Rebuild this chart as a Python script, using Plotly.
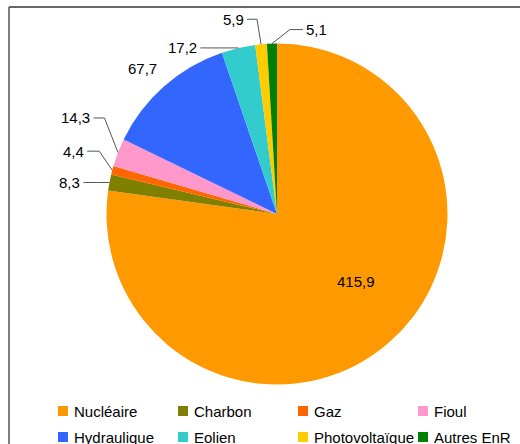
import math
import plotly.graph_objects as go

labels = ["Nucléaire", "Charbon", "Gaz", "Fioul", "Hydraulique", "Eolien", "Photovoltaïque", "Autres EnR"]
values = [415.9, 8.3, 4.4, 14.3, 67.7, 17.2, 5.9, 5.1]
colors = ["#FF9900", "#808000", "#FF6600", "#FF99CC", "#3366FF", "#33CCCC", "#FFCC00", "#008000"]

W, H = 520, 444
cx, cy, R = 277, 214, 170.5
FONT = "Liberation Sans, Arial, sans-serif"

# leader lines: (elbow dx, elbow dy, horizontal run) in px from the slice edge
leaders = {
    "Charbon": (-12, 0, -14),
    "Gaz": (-13, -19, -12),
    "Fioul": (-13.5, -34.5, -11),
    "Eolien": (-2, 0, -36),
    "Photovoltaïque": (-4, -25, -10),
    "Autres EnR": (18, -14, 13),
}


def px(x):
    return x / W


def py(y):
    return 1 - y / H


def fmt(v):
    return f"{v:.1f}".replace(".", ",")


fig = go.Figure()
fig.add_trace(go.Pie(
    labels=labels, values=values, sort=False, direction="clockwise", rotation=0,
    marker=dict(colors=colors, line=dict(width=0)),
    textinfo="none",
    domain=dict(x=[px(cx - R), px(cx + R)], y=[py(cy + R), py(cy - R)]),
    showlegend=False, hoverinfo="label+value",
))

shapes = []
annotations = []
total = sum(values)
cum = 0
for lab, v in zip(labels, values):
    mid = (cum + v / 2) / total * 2 * math.pi
    cum += v
    ex, ey = cx + R * math.sin(mid), cy - R * math.cos(mid)
    if lab in leaders:
        dx, dy, run = leaders[lab]
        bx, by = ex + dx, ey + dy
        tx = bx + run
        shapes.append(dict(type="path", xref="paper", yref="paper",
                           path=f"M{px(ex)},{py(ey)} L{px(bx)},{py(by)} L{px(tx)},{py(by)}",
                           line=dict(color="#555555", width=1)))
        annotations.append(dict(x=px(tx), y=py(by), xref="paper", yref="paper", text=fmt(v),
                                showarrow=False, xanchor="right" if run < 0 else "left",
                                yanchor="middle", xshift=-1 if run < 0 else 1,
                                font=dict(family=FONT, size=15, color="black")))
    elif lab == "Hydraulique":
        annotations.append(dict(x=px(ex - 5), y=py(ey - 18), xref="paper", yref="paper", text=fmt(v),
                                showarrow=False, xanchor="right", yanchor="middle",
                                font=dict(family=FONT, size=15, color="black")))
    else:
        # big slice: label inside
        a = mid - 0.15
        annotations.append(dict(x=px(cx + 0.61 * R * math.sin(a)), y=py(cy - 0.61 * R * math.cos(a)),
                                xref="paper", yref="paper", text=fmt(v), showarrow=False,
                                xanchor="center", yanchor="middle",
                                font=dict(family=FONT, size=15, color="black")))

# legend drawn by hand, 4 columns x 2 rows
for i, (lab, col) in enumerate(zip(labels, colors)):
    x0 = 58 + 120 * (i % 4)
    y0 = 411 + 26 * (i // 4)
    shapes.append(dict(type="rect", xref="paper", yref="paper",
                       x0=px(x0), x1=px(x0 + 10), y0=py(y0 + 5), y1=py(y0 - 5),
                       fillcolor=col, line=dict(width=0)))
    annotations.append(dict(x=px(x0 + 14), y=py(y0), xref="paper", yref="paper", text=lab,
                            showarrow=False, xanchor="left", yanchor="middle",
                            font=dict(family=FONT, size=15, color="black")))

# frame
shapes.append(dict(type="line", xref="paper", yref="paper", x0=px(9), x1=1, y0=py(7), y1=py(7),
                   line=dict(color="#333333", width=1.5)))
shapes.append(dict(type="line", xref="paper", yref="paper", x0=px(9), x1=px(9), y0=py(7), y1=0,
                   line=dict(color="#555555", width=1.5)))

fig.update_layout(
    width=W, height=H, margin=dict(l=0, r=0, t=0, b=0),
    paper_bgcolor="white", plot_bgcolor="white",
    separators=", ", shapes=shapes, annotations=annotations,
    font=dict(family=FONT, size=15, color="black"),
)

fig.write_html("out.html", config={"displayModeBar": False},
               post_script="document.body.style.margin='0';document.body.style.overflow='hidden';")
